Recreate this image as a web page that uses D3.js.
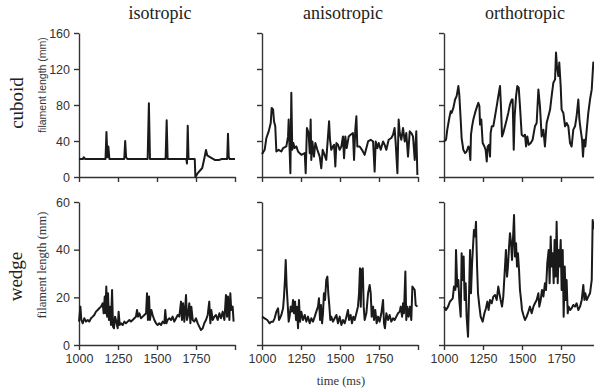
<!DOCTYPE html>
<html>
<head>
<meta charset="utf-8">
<script src="https://cdn.jsdelivr.net/npm/d3@7"></script>
<style>
  body { margin: 0; background: #fff; }
  svg { display: block; }
</style>
</head>
<body>
<svg id="chart" width="594" height="389"></svg>
<script>
// panel labels
const columns = ['isotropic', 'anisotropic', 'orthotropic'];
const rows = ['cuboid', 'wedge'];
const timeTicks = [1000, 1250, 1500, 1750, 2000];
const cuboidTicks = [0, 40, 80, 120, 160];
const wedgeTicks = [0, 20, 40, 60];

// [time (ms), filament length (mm)]
const isoCuboid = [[1000,20],[1025,20],[1030,22],[1035,21],[1040,20],[1170,20],[1176,50],[1182,22],[1188,34],[1195,20],[1290,20],[1296,40],[1302,22],[1310,20],
  [1440,20],[1448,82],[1455,20],[1555,20],[1562,63],[1568,20],[1688,20],[1692,15],[1697,57],[1702,20],[1742,20],[1746,0],[1760,4],[1790,10],
  [1805,22],[1814,30],[1822,24],[1840,22],[1870,19],[1900,19],[1915,20],[1950,20],[1955,48],[1960,22],[1966,20],[2000,20]];

const anisoCuboid = [[1000,25.4],[1017,30.2],[1028,43.3],[1043,50.7],[1056,60],[1062,76.8],[1071,75],[1077,61.9],[1085,56.3],[1092,28.3],
  [1107,30.2],[1124,28.3],[1135,32.1],[1156,34],[1167,45.1],[1171,63.8],[1177,30.2],[1182,4.1],[1188,93.6],[1194,30.2],[1201,37.7],
  [1209,32.1],[1220,34],[1231,28.3],[1252,24.6],[1274,26.5],[1280,4.1],[1288,54.4],[1299,48.8],[1306,26.5],[1312,63.8],[1316,19],
  [1323,39.5],[1333,22.7],[1342,37.7],[1355,30.2],[1370,22.7],[1380,9.7],[1389,30.2],[1397,26.5],[1412,19],[1423,45.1],[1430,61.9],
  [1436,41.4],[1444,30.2],[1455,34],[1462,35.8],[1470,11.6],[1477,37.7],[1487,35.8],[1498,30.2],[1509,34],[1519,45.1],[1526,20.9],
  [1534,45.1],[1543,32.1],[1556,45.1],[1568,47],[1583,48.8],[1590,19],[1598,52.6],[1605,67.5],[1611,33.9],[1626,33.9],[1641,30.2],
  [1658,24.6],[1680,39.5],[1697,41.4],[1712,39.5],[1722,6],[1729,39.5],[1739,32.1],[1748,37.7],[1761,30.2],[1776,39.5],[1786,35.8],
  [1797,30.2],[1812,41.4],[1829,43.3],[1840,47],[1850,54.4],[1857,37.7],[1868,4.1],[1876,63.8],[1883,48.8],[1893,41.4],[1904,54.4],
  [1915,39.5],[1925,48.8],[1936,22.7],[1947,50.7],[1957,48.8],[1968,45.1],[1979,19],[1989,50.7],[1996,2.2]];

const orthoCuboid = [[1000,39.5],[1013,41.4],[1021,52.6],[1034,65.6],[1043,73.1],[1049,71.2],[1060,76.8],[1071,86.1],[1081,89.9],[1092,101],
  [1098,91.7],[1107,63.8],[1113,43.3],[1124,30.2],[1135,26.5],[1145,28.3],[1156,33.9],[1162,32.1],[1169,19],[1173,47],[1180,56.3],
  [1188,63.8],[1199,71.2],[1209,76.8],[1220,82.4],[1227,78.7],[1231,58.2],[1239,63.8],[1248,37.7],[1259,33.9],[1267,30.2],[1274,17.2],
  [1280,33.9],[1288,35.8],[1295,22.7],[1299,48.8],[1306,56.3],[1316,56.3],[1327,67.5],[1338,78.7],[1348,89.9],[1359,101],[1365,78.7],
  [1372,45.1],[1380,48.8],[1391,56.3],[1402,63.8],[1412,71.2],[1423,80.5],[1434,86.1],[1440,86.1],[1447,30.2],[1453,67.5],[1462,89.9],
  [1470,101],[1479,99.2],[1487,78.7],[1498,47],[1509,45.1],[1519,47],[1526,33.9],[1534,45.1],[1543,35.8],[1556,37.7],[1568,41.4],
  [1583,56.3],[1594,60],[1605,97.3],[1615,78.7],[1626,45.1],[1637,52.6],[1647,33.9],[1658,60],[1669,67.5],[1680,74.9],[1690,89.9],
  [1701,104.8],[1712,108.5],[1718,138.3],[1724,123.4],[1733,112.2],[1739,127.1],[1748,101],[1754,74.9],[1765,71.2],[1776,56.3],
  [1786,60],[1797,56.3],[1808,37.7],[1818,33.9],[1829,52.6],[1840,56.3],[1850,67.5],[1861,86.1],[1868,63.8],[1876,52.6],[1885,41.4],
  [1891,22.7],[1898,41.4],[1906,33.9],[1915,52.6],[1925,71.2],[1936,86.1],[1947,97.3],[1957,127.1],[1962,123],[1979,131],[2000,127]];

const isoWedge = [[1000,9.8],[1009,16.1],[1015,10.5],[1024,9.1],[1034,11.2],[1045,9.8],[1056,10.5],[1066,9.8],[1077,11.2],[1088,11.9],
  [1098,12.6],[1109,14],[1120,14.7],[1130,15.4],[1141,16.1],[1152,17.5],[1158,13.3],[1165,20.3],[1169,13.3],[1175,24.5],[1180,11.9],
  [1186,21.7],[1192,10.5],[1199,16.1],[1205,8.4],[1212,23.1],[1218,7.7],[1224,7],[1231,11.9],[1237,10.5],[1248,7],[1254,14],[1261,8.4],
  [1269,9.1],[1280,8.4],[1291,9.8],[1301,9.1],[1312,9.8],[1323,10.5],[1333,9.8],[1344,10.5],[1355,11.2],[1365,11.9],[1372,14.7],
  [1378,11.9],[1387,13.3],[1397,11.2],[1408,11.9],[1419,12.6],[1430,13.3],[1436,21.7],[1442,10.5],[1449,20.3],[1455,10.5],[1464,14.7],
  [1472,12.6],[1483,10.5],[1494,9.1],[1504,8.4],[1515,9.1],[1526,8.4],[1536,9.8],[1547,9.1],[1553,14.7],[1560,9.1],[1568,10.5],
  [1579,11.2],[1590,10.5],[1600,11.9],[1611,9.8],[1622,11.2],[1633,12.6],[1643,11.9],[1654,18.2],[1660,10.5],[1667,17.5],[1675,9.8],
  [1686,21],[1692,10.5],[1699,12.6],[1707,17.5],[1714,9.1],[1720,16.1],[1729,10.5],[1739,9.8],[1750,11.2],[1761,9.1],[1771,7.7],
  [1782,6.3],[1793,7],[1803,9.1],[1814,10.5],[1825,12.6],[1835,18.2],[1842,9.1],[1848,14.7],[1857,10.5],[1868,11.9],[1878,12.6],
  [1889,10.5],[1900,13.3],[1910,11.2],[1921,14],[1932,10.5],[1942,21],[1949,11.9],[1955,20.3],[1964,10.5],[1970,21.7],[1976,14.7],
  [1985,16.1],[1991,9.8]];

const anisoWedge = [[1000,11.9],[1017,11.2],[1034,10.5],[1049,9.1],[1060,9.8],[1071,9.8],[1081,11.2],[1092,14],[1103,15.4],[1109,10.5],
  [1115,11.2],[1124,12.6],[1135,15.4],[1141,20.3],[1147,27.3],[1152,35.7],[1158,24.5],[1165,16.8],[1171,9.8],[1177,11.9],[1184,16.1],
  [1192,14],[1199,18.9],[1205,13.3],[1212,18.2],[1218,10.5],[1224,16.1],[1231,7],[1237,18.9],[1244,9.8],[1252,14],[1263,10.5],
  [1274,12.6],[1284,9.8],[1295,11.9],[1306,9.1],[1316,11.2],[1327,9.8],[1338,11.9],[1348,14],[1359,16.1],[1365,19.6],[1372,10.5],
  [1378,16.8],[1385,9.1],[1391,13.3],[1397,21.7],[1404,18.9],[1412,27.3],[1419,28.7],[1425,21.7],[1432,16.1],[1438,10.5],[1444,11.9],
  [1455,9.8],[1466,11.2],[1477,12.6],[1487,9.1],[1498,11.9],[1509,8.4],[1519,10.5],[1530,9.1],[1541,11.9],[1551,14.7],[1558,10.5],
  [1568,12.6],[1577,9.1],[1585,11.9],[1594,10.5],[1605,13.3],[1615,16.1],[1622,21.7],[1628,32.2],[1633,16.1],[1639,31.5],[1646,32.2],
  [1652,16.1],[1658,10.5],[1669,13.3],[1680,21.7],[1690,25.2],[1697,21.7],[1703,11.9],[1712,16.1],[1718,10.5],[1726,14.7],[1735,9.1],
  [1744,11.9],[1754,9.8],[1765,13.3],[1776,18.9],[1782,9.1],[1788,7],[1797,13.3],[1808,10.5],[1818,12.6],[1829,9.8],[1840,11.2],
  [1850,10.5],[1861,11.9],[1872,13.3],[1883,14],[1889,16.1],[1898,11.9],[1904,17.5],[1910,13.3],[1919,30.8],[1925,10.5],[1932,16.1],
  [1940,11.9],[1949,16.1],[1957,10.5],[1964,24.5],[1972,23.8],[1979,23.1],[1985,16.8],[1996,16.1]];

const orthoWedge = [[1000,16.1],[1013,14.7],[1026,16.1],[1038,18.2],[1056,19.6],[1064,24.5],[1073,23.1],[1077,39.9],[1085,24.5],[1092,27.3],
  [1098,18.9],[1107,11.9],[1113,38.5],[1120,27.3],[1126,37.1],[1132,18.9],[1139,25.9],[1145,11.9],[1154,3.5],[1160,18.9],[1167,39.9],
  [1173,21.7],[1180,34.3],[1186,41.3],[1192,48.3],[1199,45.5],[1205,51.7],[1212,32.9],[1218,21.7],[1227,16.1],[1235,11.9],[1248,9.8],
  [1259,13.3],[1269,15.4],[1278,18.2],[1286,14.7],[1295,18.9],[1306,17.5],[1316,20.3],[1327,21],[1338,18.9],[1348,24.5],[1355,21.7],
  [1363,18.9],[1372,16.1],[1380,20.3],[1391,32.9],[1397,39.9],[1404,28.7],[1410,32.9],[1417,41.3],[1423,46.9],[1430,42.7],[1436,35.7],
  [1442,44.1],[1449,54.5],[1455,37.1],[1462,42.7],[1468,32.9],[1474,38.5],[1481,31.5],[1487,23.1],[1494,18.9],[1500,14.7],[1509,12.6],
  [1519,10.5],[1530,11.9],[1541,14],[1551,16.1],[1562,13.3],[1573,16.1],[1583,17.5],[1594,18.9],[1605,21.7],[1611,16.1],[1620,18.9],
  [1628,23.1],[1637,20.3],[1647,25.9],[1654,23.1],[1662,34.3],[1671,39.9],[1677,25.9],[1684,45.5],[1690,32.9],[1697,38.5],[1703,25.9],
  [1709,44.1],[1716,28.7],[1722,51.7],[1729,25.9],[1735,39.9],[1741,32.9],[1748,44.1],[1754,23.1],[1761,39.9],[1767,11.9],[1774,32.9],
  [1780,18.9],[1786,27.3],[1793,13.3],[1799,16.1],[1808,14.7],[1818,15.4],[1829,16.8],[1840,16.1],[1850,17.5],[1861,14.7],[1872,16.1],
  [1883,18.9],[1893,25.2],[1900,18.9],[1906,21.7],[1915,18.9],[1925,20.3],[1936,21.7],[1947,27.3],[1953,52.4],[1959,49.7],[1979,46.9],
  [2000,39.9]];

const series = [
  [isoCuboid, anisoCuboid, orthoCuboid],
  [isoWedge, anisoWedge, orthoWedge]
];

const svg = d3.select('#chart');

const colLeft = [79, 262, 444];
const panelW = 156;
const rowTop = [33, 202];
const rowBottom = [177, 345];
const yMax = [160, 60];
const yTicks = [cuboidTicks, wedgeTicks];

const serif = '"Liberation Serif", "Times New Roman", serif';
const sans = '"Liberation Sans", Arial, sans-serif';

// column titles
svg.selectAll('text.col')
  .data(columns)
  .join('text')
  .attr('class', 'col')
  .attr('x', (d, i) => colLeft[i] + 81)
  .attr('y', 19)
  .attr('text-anchor', 'middle')
  .attr('font-family', serif)
  .attr('font-size', 18)
  .attr('fill', '#222')
  .text(d => d);

rows.forEach((rowName, r) => {
  const y = d3.scaleLinear().domain([0, yMax[r]]).range([rowBottom[r], rowTop[r]]);

  // row label
  const cy = (rowTop[r] + rowBottom[r]) / 2 - (r === 0 ? 2 : -3);
  svg.append('text')
    .attr('transform', `translate(${r === 0 ? 23 : 22},${cy}) rotate(-90)`)
    .attr('text-anchor', 'middle')
    .attr('font-family', serif)
    .attr('font-size', 19)
    .attr('fill', '#222')
    .text(rowName);

  // y axis title
  svg.append('text')
    .attr('transform', `translate(${r === 0 ? 46 : 46},${r === 0 ? 85 : 265}) rotate(-90)`)
    .attr('text-anchor', 'middle')
    .attr('font-family', r === 0 ? sans : serif)
    .attr('font-size', r === 0 ? 10.5 : 12.5)
    .attr('fill', '#333')
    .text('filament length (mm)');

  columns.forEach((colName, c) => {
    const x = d3.scaleLinear().domain([1000, 2000]).range([colLeft[c], colLeft[c] + panelW]);

    const yAxis = d3.axisLeft(y)
      .tickValues(yTicks[r])
      .tickSize(5)
      .tickSizeOuter(0)
      .tickPadding(4)
      .tickFormat(c === 0 ? d3.format('d') : () => '');

    const xAxis = d3.axisBottom(x)
      .tickValues(timeTicks)
      .tickSize(5)
      .tickSizeOuter(0)
      .tickPadding(4)
      .tickFormat(d => (r === 1 && d < 2000) ? d : '');

    const gy = svg.append('g')
      .attr('transform', `translate(${colLeft[c]},0)`)
      .call(yAxis);
    const gx = svg.append('g')
      .attr('transform', `translate(0,${rowBottom[r]})`)
      .call(xAxis);

    [gx, gy].forEach(g => {
      g.select('.domain').attr('stroke', '#333').attr('stroke-width', 1.4);
      g.selectAll('.tick line').attr('stroke', '#333').attr('stroke-width', 1.4);
      g.selectAll('.tick text')
        .attr('font-family', sans)
        .attr('font-size', 12.5)
        .attr('fill', '#333');
    });

    const line = d3.line()
      .x(d => x(d[0]))
      .y(d => y(d[1]));

    svg.append('path')
      .datum(series[r][c])
      .attr('d', line)
      .attr('fill', 'none')
      .attr('stroke', '#1a1a1a')
      .attr('stroke-width', 2)
      .attr('stroke-linejoin', 'round');
  });
});

// x axis title
svg.append('text')
  .attr('x', 341)
  .attr('y', 385)
  .attr('text-anchor', 'middle')
  .attr('font-family', serif)
  .attr('font-size', 12.5)
  .attr('fill', '#333')
  .text('time (ms)');
</script>
</body>
</html>
